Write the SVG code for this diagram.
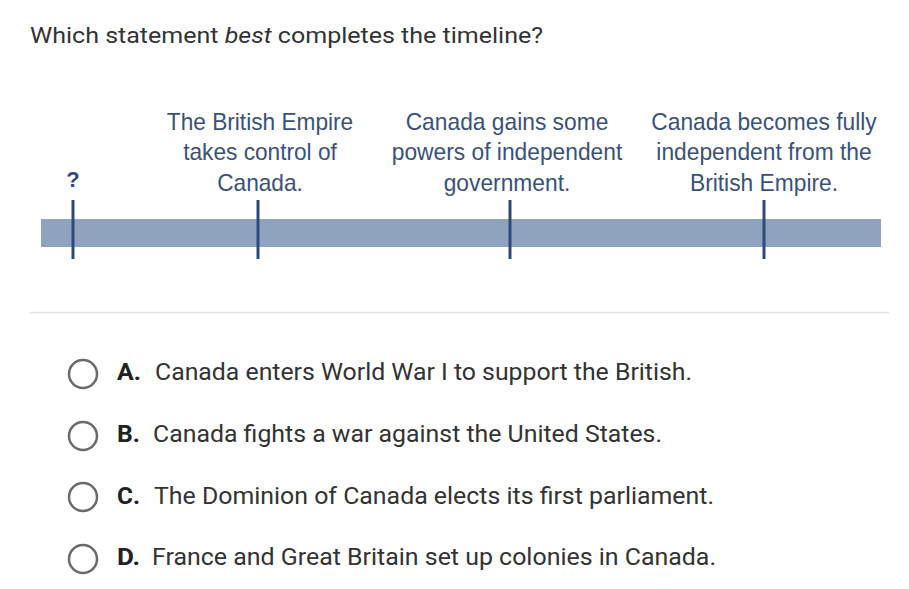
<svg xmlns="http://www.w3.org/2000/svg" width="909" height="589" viewBox="0 0 909 589">
<style>
.title{font-family:Roboto,"Liberation Sans",sans-serif;font-size:22px;fill:#333}
.lbl{font-family:"Liberation Sans",Arial,sans-serif;font-size:24px;fill:#3a5278;text-anchor:middle}
.q{font-family:"Liberation Sans",Arial,sans-serif;font-size:22px;font-weight:bold;fill:#2e4a78;text-anchor:middle}
.tick{stroke:#2e4a7a;stroke-width:3}
.opt{font-family:Roboto,"Liberation Sans",sans-serif;font-size:24.5px;fill:#333}
.key{font-family:Roboto,"Liberation Sans",sans-serif;font-size:24.5px;font-weight:bold;fill:#222}
.radio{fill:#fff;stroke:#6b6b6b;stroke-width:2.5}
</style>
<rect width="909" height="589" fill="#fff"/>
<text class="title" transform="translate(30 43) scale(1.138 1)" x="0" y="0">Which statement <tspan font-style="italic">best</tspan> completes the timeline?</text>
<g id="timeline">
<rect x="41" y="219" width="840" height="28" fill="#8fa3be"/>
</g>
<g id="connectors">
<line class="tick" x1="73" y1="200" x2="73" y2="259"/>
<line class="tick" x1="258" y1="200" x2="258" y2="259"/>
<line class="tick" x1="510" y1="200" x2="510" y2="259"/>
<line class="tick" x1="764" y1="200" x2="764" y2="259"/>
</g>
<g id="event-q"><text class="q" x="73" y="187">?</text></g>
<g id="event-1" transform="translate(260 0) scale(0.945 1)"><text class="lbl" x="0" y="130">The British Empire</text><text class="lbl" x="0" y="160.5">takes control of</text><text class="lbl" x="0" y="191">Canada.</text></g>
<g id="event-2" transform="translate(507 0) scale(0.95 1)"><text class="lbl" x="0" y="130">Canada gains some</text><text class="lbl" x="0" y="160.5">powers of independent</text><text class="lbl" x="0" y="191">government.</text></g>
<g id="event-3" transform="translate(764 0) scale(0.95 1)"><text class="lbl" x="0" y="130">Canada becomes fully</text><text class="lbl" x="0" y="160.5">independent from the</text><text class="lbl" x="0" y="191">British Empire.</text></g>
<line x1="30" y1="312.5" x2="889" y2="312.5" stroke="#e2e2e2" stroke-width="1.5"/>
<g id="option-a"><circle class="radio" cx="83" cy="374" r="14"/><text class="key" x="117" y="380" textLength="24" lengthAdjust="spacingAndGlyphs">A.</text><text class="opt" x="155" y="380" textLength="537" lengthAdjust="spacingAndGlyphs">Canada enters World War I to support the British.</text></g>
<g id="option-b"><circle class="radio" cx="83" cy="436" r="14"/><text class="key" x="117" y="442" textLength="23" lengthAdjust="spacingAndGlyphs">B.</text><text class="opt" x="153" y="442" textLength="509" lengthAdjust="spacingAndGlyphs">Canada fights a war against the United States.</text></g>
<g id="option-c"><circle class="radio" cx="83" cy="497" r="14"/><text class="key" x="117" y="504" textLength="23" lengthAdjust="spacingAndGlyphs">C.</text><text class="opt" x="154" y="504" textLength="560" lengthAdjust="spacingAndGlyphs">The Dominion of Canada elects its first parliament.</text></g>
<g id="option-d"><circle class="radio" cx="83" cy="559" r="14"/><text class="key" x="117" y="565" textLength="23" lengthAdjust="spacingAndGlyphs">D.</text><text class="opt" x="152" y="565" textLength="564" lengthAdjust="spacingAndGlyphs">France and Great Britain set up colonies in Canada.</text></g>
</svg>
